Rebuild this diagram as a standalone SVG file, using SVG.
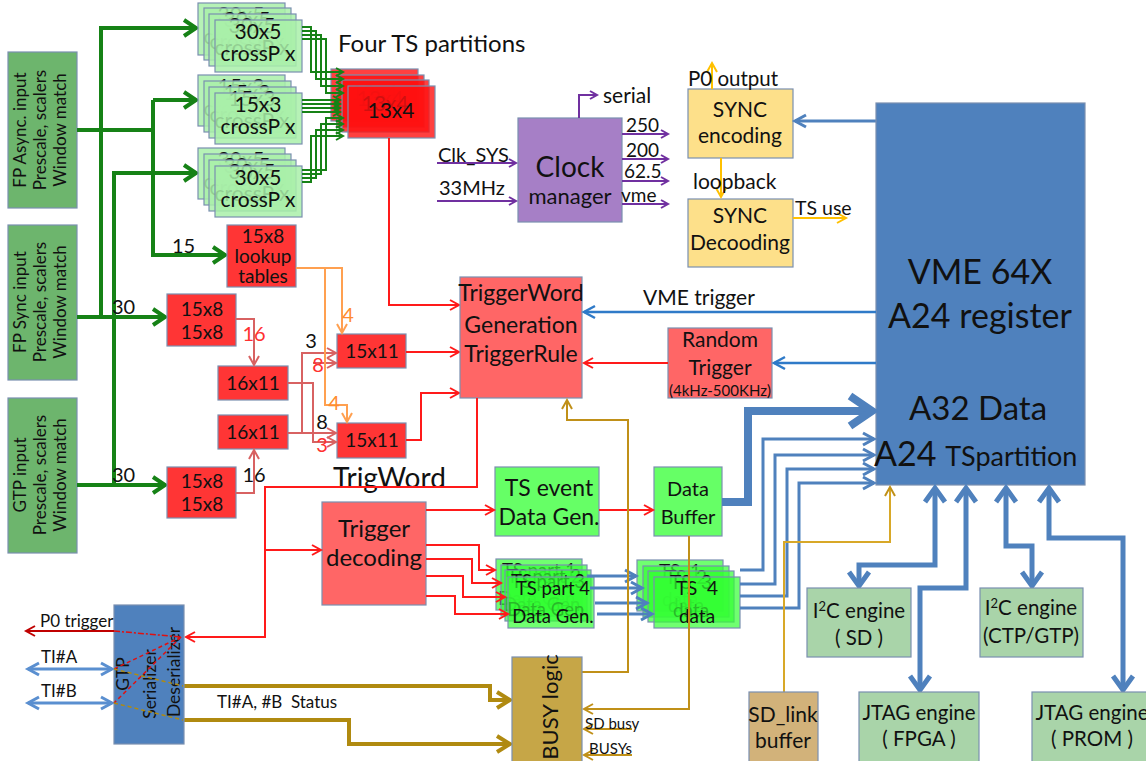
<svg xmlns="http://www.w3.org/2000/svg" width="1146" height="761" viewBox="0 0 1146 761">
<style>
text{font-family:Lato,"Open Sans","Liberation Sans",sans-serif;fill:#111}
.c{text-anchor:middle}
.bx{stroke:#7a8fb0;stroke-width:1.2}
.lg{fill:#6db56d}
.cp{fill:#a9f0a9;fill-opacity:0.85}
.rd{fill:#ff3535}
.pk{fill:#ff6666}
.gr{fill:#66ff66}
.gt{fill:#33ff33;fill-opacity:0.7}
.rt{fill:#ff1010;fill-opacity:0.8}
.eng{fill:#a9d4a9}
.sy{fill:#fde08a}
.bl{fill:#4f81bd}
.g4{fill:none;stroke:#168216;stroke-width:4}
.g2{fill:none;stroke:#168216;stroke-width:2}
.r2{fill:none;stroke:#ff1a1a;stroke-width:2}
.s2{fill:none;stroke:#d86262;stroke-width:2}
.o2{fill:none;stroke:#ffa050;stroke-width:2}
.p2{fill:none;stroke:#7030a0;stroke-width:2}
.y2{fill:none;stroke:#ffc000;stroke-width:2}
.b2{fill:none;stroke:#2f7ac8;stroke-width:2.5}
.b3{fill:none;stroke:#4f81bd;stroke-width:3}
.b5{fill:none;stroke:#4f81bd;stroke-width:5}
.b8{fill:none;stroke:#4f81bd;stroke-width:8}
.n2{fill:none;stroke:#c09018;stroke-width:2}
.n4{fill:none;stroke:#b08a10;stroke-width:4}
</style>
<defs>
<marker id="mg" markerWidth="20" markerHeight="20" refX="14" refY="10" orient="auto" markerUnits="userSpaceOnUse" overflow="visible"><path d="M2,2 L14,10 L2,18" fill="none" stroke="#168216" stroke-width="4"/></marker>
<marker id="mgs" markerWidth="10" markerHeight="10" refX="8" refY="5" orient="auto" markerUnits="userSpaceOnUse" overflow="visible"><path d="M1,1 L8,5 L1,9" fill="none" stroke="#168216" stroke-width="2"/></marker>
<marker id="mr" markerWidth="12" markerHeight="12" refX="10" refY="6" orient="auto" markerUnits="userSpaceOnUse" overflow="visible"><path d="M1,1 L10,6 L1,11" fill="none" stroke="#ff1a1a" stroke-width="2"/></marker>
<marker id="ms" markerWidth="12" markerHeight="12" refX="10" refY="6" orient="auto" markerUnits="userSpaceOnUse" overflow="visible"><path d="M1,1 L10,6 L1,11" fill="none" stroke="#d86262" stroke-width="2"/></marker>
<marker id="mo" markerWidth="12" markerHeight="12" refX="10" refY="6" orient="auto" markerUnits="userSpaceOnUse" overflow="visible"><path d="M1,1 L10,6 L1,11" fill="none" stroke="#ffa050" stroke-width="2"/></marker>
<marker id="mp" markerWidth="10" markerHeight="10" refX="8" refY="5" orient="auto" markerUnits="userSpaceOnUse" overflow="visible"><path d="M1,1 L8,5 L1,9" fill="none" stroke="#7030a0" stroke-width="2"/></marker>
<marker id="my" markerWidth="12" markerHeight="12" refX="10" refY="6" orient="auto" markerUnits="userSpaceOnUse" overflow="visible"><path d="M1,1 L10,6 L1,11" fill="none" stroke="#ffc000" stroke-width="2"/></marker>
<marker id="mb" markerWidth="14" markerHeight="14" refX="12" refY="7" orient="auto" markerUnits="userSpaceOnUse" overflow="visible"><path d="M1,1 L12,7 L1,13" fill="none" stroke="#2f7ac8" stroke-width="2.5"/></marker>
<marker id="mb3" markerWidth="14" markerHeight="14" refX="12" refY="7" orient="auto-start-reverse" markerUnits="userSpaceOnUse" overflow="visible"><path d="M1,1 L12,7 L1,13" fill="none" stroke="#4f81bd" stroke-width="3"/></marker>
<marker id="mti" markerWidth="14" markerHeight="14" refX="12" refY="7" orient="auto-start-reverse" markerUnits="userSpaceOnUse" overflow="visible"><path d="M1,1 L12,7 L1,13" fill="none" stroke="#5a8fd0" stroke-width="3"/></marker>
<marker id="mb5" markerWidth="24" markerHeight="24" refX="17" refY="12" orient="auto-start-reverse" markerUnits="userSpaceOnUse" overflow="visible"><path d="M3,2 L17,12 L3,22" fill="none" stroke="#4f81bd" stroke-width="5"/></marker>
<marker id="mb8" markerWidth="34" markerHeight="34" refX="26" refY="17" orient="auto" markerUnits="userSpaceOnUse" overflow="visible"><path d="M4,2 L26,17 L4,32" fill="none" stroke="#4f81bd" stroke-width="8"/></marker>
<marker id="mn" markerWidth="12" markerHeight="12" refX="10" refY="6" orient="auto" markerUnits="userSpaceOnUse" overflow="visible"><path d="M1,1 L10,6 L1,11" fill="none" stroke="#c09018" stroke-width="2"/></marker>
<marker id="mn4" markerWidth="20" markerHeight="20" refX="15" refY="10" orient="auto" markerUnits="userSpaceOnUse" overflow="visible"><path d="M2,2 L15,10 L2,18" fill="none" stroke="#b08a10" stroke-width="4"/></marker>
<marker id="mdr" markerWidth="12" markerHeight="12" refX="10" refY="6" orient="auto" markerUnits="userSpaceOnUse" overflow="visible"><path d="M1,1 L10,6 L1,11" fill="none" stroke="#c00000" stroke-width="2"/></marker>
</defs>
<rect width="1146" height="761" fill="#fff"/>

<g id="title"><text x="338" y="52" font-size="24">Four TS partitions</text></g>

<g id="fp-async"><rect class="bx lg" x="8" y="52" width="69" height="156"/>
<text class="c" transform="translate(42,130) rotate(-90)" font-size="17"><tspan x="0" y="-16">FP Async. input</tspan><tspan x="0" y="4">Prescale, scalers</tspan><tspan x="0" y="24">Window match</tspan></text></g>
<g id="fp-sync"><rect class="bx lg" x="8" y="225" width="69" height="155"/>
<text class="c" transform="translate(42,302) rotate(-90)" font-size="17"><tspan x="0" y="-16">FP Sync input</tspan><tspan x="0" y="4">Prescale, scalers</tspan><tspan x="0" y="24">Window match</tspan></text></g>
<g id="gtp-input"><rect class="bx lg" x="8" y="398" width="69" height="155"/>
<text class="c" transform="translate(42,475) rotate(-90)" font-size="17"><tspan x="0" y="-16">GTP input</tspan><tspan x="0" y="4">Prescale, scalers</tspan><tspan x="0" y="24">Window match</tspan></text></g>

<g id="connectors">
<path class="g4" d="M77,130 H153"/>
<path class="g4" d="M153,100 V255 H225" marker-end="url(#mg)"/>
<path class="g4" d="M153,100 H196" marker-end="url(#mg)"/>
<path class="g4" d="M77,317 H165" marker-end="url(#mg)"/>
<path class="g4" d="M101,317 V28 H196" marker-end="url(#mg)"/>
<path class="g4" d="M77,485 H165" marker-end="url(#mg)"/>
<path class="g4" d="M114,485 V173 H196" marker-end="url(#mg)"/>
</g>

<g id="crossp-top">
<rect class="bx cp" x="198" y="3" width="87" height="52"/><text class="c" x="241" y="22" font-size="21">30x5</text><text class="c" x="241" y="44" font-size="21">crossP x</text>
<rect class="bx cp" x="204" y="8" width="87" height="52"/><text class="c" x="247" y="27" font-size="21">30x5</text><text class="c" x="247" y="49" font-size="21">crossP x</text>
<rect class="bx cp" x="209" y="14" width="87" height="52"/><text class="c" x="252" y="33" font-size="21">30x5</text><text class="c" x="252" y="55" font-size="21">crossP x</text>
<rect class="bx cp" x="215" y="20" width="87" height="52"/><text class="c" x="258" y="39" font-size="21">30x5</text><text class="c" x="258" y="61" font-size="21">crossP x</text>
</g>
<g id="crossp-mid">
<rect class="bx cp" x="198" y="75" width="87" height="51"/><text class="c" x="241" y="94" font-size="21">15x3</text><text class="c" x="241" y="116" font-size="21">crossP x</text>
<rect class="bx cp" x="204" y="81" width="87" height="51"/><text class="c" x="247" y="100" font-size="21">15x3</text><text class="c" x="247" y="122" font-size="21">crossP x</text>
<rect class="bx cp" x="209" y="87" width="87" height="51"/><text class="c" x="252" y="106" font-size="21">15x3</text><text class="c" x="252" y="128" font-size="21">crossP x</text>
<rect class="bx cp" x="215" y="93" width="87" height="51"/><text class="c" x="258" y="112" font-size="21">15x3</text><text class="c" x="258" y="134" font-size="21">crossP x</text>
</g>
<g id="crossp-bot">
<rect class="bx cp" x="198" y="148" width="87" height="51"/><text class="c" x="241" y="167" font-size="21">30x5</text><text class="c" x="241" y="189" font-size="21">crossP x</text>
<rect class="bx cp" x="204" y="154" width="87" height="51"/><text class="c" x="247" y="173" font-size="21">30x5</text><text class="c" x="247" y="195" font-size="21">crossP x</text>
<rect class="bx cp" x="209" y="160" width="87" height="51"/><text class="c" x="252" y="179" font-size="21">30x5</text><text class="c" x="252" y="201" font-size="21">crossP x</text>
<rect class="bx cp" x="215" y="166" width="87" height="51"/><text class="c" x="258" y="185" font-size="21">30x5</text><text class="c" x="258" y="207" font-size="21">crossP x</text>
</g>

<g id="ts13x4">
<rect class="bx rt" x="331" y="69" width="87" height="52"/><text class="c" x="374" y="100" font-size="21">13x4</text>
<rect class="bx rt" x="337" y="75" width="87" height="52"/><text class="c" x="380" y="106" font-size="21">13x4</text>
<rect class="bx rt" x="342" y="80" width="87" height="52"/><text class="c" x="385" y="111" font-size="21">13x4</text>
<rect class="bx rt" x="348" y="86" width="87" height="52"/><text class="c" x="391" y="118" font-size="21">13x4</text>
</g>

<g id="connectors-green-thin">
<path class="g2" d="M302,27 H311 V72 H343" marker-end="url(#mgs)"/>
<path class="g2" d="M302,31 H316 V79 H343" marker-end="url(#mgs)"/>
<path class="g2" d="M302,35 H321 V86 H343" marker-end="url(#mgs)"/>
<path class="g2" d="M302,39 H326 V93 H343" marker-end="url(#mgs)"/>
<path class="g2" d="M302,100 H340" marker-end="url(#mgs)"/>
<path class="g2" d="M302,104 H340" marker-end="url(#mgs)"/>
<path class="g2" d="M302,108 H340" marker-end="url(#mgs)"/>
<path class="g2" d="M302,112 H340" marker-end="url(#mgs)"/>
<path class="g2" d="M302,170 H326 V118 H343" marker-end="url(#mgs)"/>
<path class="g2" d="M302,174 H321 V124 H343" marker-end="url(#mgs)"/>
<path class="g2" d="M302,178 H316 V130 H343" marker-end="url(#mgs)"/>
<path class="g2" d="M302,182 H311 V136 H343" marker-end="url(#mgs)"/>
</g>

<g id="labels-left">
<text x="172" y="253" font-size="20">15</text>
<text x="112" y="314" font-size="20">30</text>
<text x="112" y="482" font-size="20">30</text>
</g>

<g id="lookup"><rect class="bx rd" x="227" y="225" width="69" height="62"/>
<text class="c" x="263" y="243" font-size="19">15x8</text><text class="c" x="263" y="263" font-size="19">lookup</text><text class="c" x="263" y="283" font-size="19">tables</text></g>
<g id="b15x8a"><rect class="bx rd" x="167" y="294" width="69" height="52"/>
<text class="c" x="202" y="316" font-size="19">15x8</text><text class="c" x="202" y="339" font-size="19">15x8</text></g>
<g id="b15x8b"><rect class="bx rd" x="167" y="467" width="69" height="51"/>
<text class="c" x="202" y="488" font-size="19">15x8</text><text class="c" x="202" y="511" font-size="19">15x8</text></g>
<g id="b16x11a"><rect class="bx rd" x="218" y="366" width="70" height="34"/><text class="c" x="253" y="390" font-size="19">16x11</text></g>
<g id="b16x11b"><rect class="bx rd" x="218" y="415" width="70" height="34"/><text class="c" x="253" y="439" font-size="19">16x11</text></g>
<g id="b15x11a"><rect class="bx rd" x="337" y="334" width="69" height="34"/><text class="c" x="372" y="358" font-size="19">15x11</text></g>
<g id="b15x11b"><rect class="bx rd" x="337" y="423" width="69" height="35"/><text class="c" x="372" y="447" font-size="19">15x11</text></g>

<g id="connectors-mid">
<path class="s2" d="M236,319 H254 V365" marker-end="url(#ms)"/>
<path class="s2" d="M236,493 H254 V450" marker-end="url(#ms)"/>
<path class="s2" d="M288,383 H313 V442 H336" marker-end="url(#ms)"/>
<path class="s2" d="M313,363 H336" marker-end="url(#ms)"/>
<path class="s2" d="M288,433 H336" marker-end="url(#ms)"/>
<path class="s2" d="M302,433 V353 H336" marker-end="url(#ms)"/>
<path class="o2" d="M296,268 H342 V333" marker-end="url(#mo)"/>
<path class="o2" d="M325,268 V405 H347 V422" marker-end="url(#mo)"/>
<path class="r2" d="M389,138 V305 H459" marker-end="url(#mr)"/>
<path class="r2" d="M406,352 H459" marker-end="url(#mr)"/>
<path class="r2" d="M406,440 H421 V393 H459" marker-end="url(#mr)"/>
</g>
<g id="labels-mid">
<text class="c" x="254" y="341" font-size="20" style="fill:#ff3030">16</text>
<text class="c" x="254" y="482" font-size="20">16</text>
<text class="c" x="311" y="348" font-size="20">3</text>
<text class="c" x="318" y="372" font-size="20" style="fill:#ff3030">8</text>
<text class="c" x="348" y="322" font-size="20" style="fill:#ff8c30">4</text>
<text class="c" x="334" y="410" font-size="20" style="fill:#ff8c30">4</text>
<text class="c" x="322" y="429" font-size="20">8</text>
<text class="c" x="322" y="452" font-size="20" style="fill:#ff3030">3</text>
</g>

<g id="clock"><rect class="bx" fill="#a67fc6" x="518" y="118" width="104" height="104"/>
<text class="c" x="570" y="177" font-size="28">Clock</text><text class="c" x="570" y="204" font-size="22">manager</text></g>
<g id="clock-connectors">
<path class="p2" d="M437,163 H516" marker-end="url(#mp)"/>
<path class="p2" d="M437,201 H516" marker-end="url(#mp)"/>
<path class="p2" d="M579,118 V95 H597" marker-end="url(#mp)"/>
<path class="p2" d="M622,134 H668" marker-end="url(#mp)"/>
<path class="p2" d="M622,159 H668" marker-end="url(#mp)"/>
<path class="p2" d="M622,181 H668" marker-end="url(#mp)"/>
<path class="p2" d="M622,204 H668" marker-end="url(#mp)"/>
</g>
<g id="clock-labels">
<text x="438" y="162" font-size="20">Clk_SYS</text>
<text x="439" y="195" font-size="20">33MHz</text>
<text x="603" y="103" font-size="21">serial</text>
<text x="626" y="132" font-size="19">250</text>
<text x="626" y="157" font-size="19">200</text>
<text x="624" y="178" font-size="19">62.5</text>
<text x="621" y="202" font-size="19">vme</text>
</g>

<g id="sync-enc"><rect class="bx sy" x="688" y="89" width="105" height="69"/>
<text class="c" x="740" y="117" font-size="21">SYNC</text><text class="c" x="740" y="143" font-size="21">encoding</text></g>
<g id="sync-dec"><rect class="bx sy" x="688" y="199" width="105" height="68"/>
<text class="c" x="740" y="223" font-size="21">SYNC</text><text class="c" x="740" y="250" font-size="21">Decooding</text></g>
<g id="sync-connectors">
<path class="y2" d="M712,89 V63" marker-end="url(#my)"/>
<path class="y2" d="M721,158 V197" marker-end="url(#my)"/>
<path class="y2" d="M793,218 H846" marker-end="url(#my)"/>
<path class="b3" d="M876,121 H795" marker-end="url(#mb3)"/>
</g>
<g id="sync-labels">
<text x="688" y="86" font-size="20.5">P0 output</text>
<text x="693" y="189" font-size="21">loopback</text>
<text x="795" y="215" font-size="19.5">TS use</text>
</g>

<g id="vme"><rect class="bx bl" x="876" y="103" width="209" height="382"/>
<text class="c" x="980" y="284" font-size="34">VME 64X</text>
<text class="c" x="980" y="328" font-size="34">A24 register</text>
<text class="c" x="978" y="420" font-size="33">A32 Data</text>
<text x="874" y="466" font-size="34">A24 <tspan font-size="27">TSpartition</tspan></text></g>

<g id="triggerword"><rect class="bx pk" x="460" y="277" width="122" height="121"/>
<text class="c" x="521" y="301" font-size="23">TriggerWord</text><text class="c" x="521" y="333" font-size="23">Generation</text><text class="c" x="521" y="362" font-size="23">TriggerRule</text></g>
<g id="random"><rect class="bx pk" x="668" y="328" width="104" height="70"/>
<text class="c" x="720" y="347" font-size="21">Random</text><text class="c" x="720" y="375" font-size="21">Trigger</text><text class="c" x="720" y="396" font-size="15">(4kHz-500KHz)</text></g>
<g id="trig-connectors">
<path class="b2" d="M876,312 H584" marker-end="url(#mb)"/>
<path class="b2" d="M876,363 H774" marker-end="url(#mb)"/>
<path class="r2" d="M668,363 H584" marker-end="url(#mr)"/>
</g>
<text x="643" y="305" font-size="21">VME trigger</text>

<g id="trigdec"><rect class="bx pk" x="322" y="502" width="104" height="103"/>
<text class="c" x="374" y="537" font-size="24">Trigger</text><text class="c" x="374" y="566" font-size="24">decoding</text></g>
<g id="tsevent"><rect class="bx gr" x="495" y="467" width="104" height="69"/>
<text class="c" x="549" y="496" font-size="23">TS event</text><text class="c" x="549" y="525" font-size="23">Data Gen.</text></g>
<g id="databuffer"><rect class="bx gr" x="654" y="467" width="68" height="69"/>
<text class="c" x="688" y="496" font-size="20">Data</text><text class="c" x="688" y="524" font-size="20">Buffer</text></g>
<text x="333" y="488" font-size="28">TrigWord</text>

<g id="tspart">
<rect class="bx gt" x="496" y="559" width="86" height="51"/><text class="c" x="539" y="577" font-size="18.5">TS part 1</text><text class="c" x="539" y="605" font-size="18.5">Data Gen.</text>
<rect class="bx gt" x="501" y="565" width="86" height="51"/><text class="c" x="544" y="583" font-size="18.5">TS part 2</text><text class="c" x="544" y="611" font-size="18.5">Data Gen.</text>
<rect class="bx gt" x="505" y="570" width="86" height="51"/><text class="c" x="548" y="588" font-size="18.5">TS part 3</text><text class="c" x="548" y="616" font-size="18.5">Data Gen.</text>
<rect class="bx gt" x="508" y="577" width="86" height="51"/><text class="c" x="553" y="595" font-size="18.5">TS part 4</text><text class="c" x="553" y="623" font-size="18.5">Data Gen.</text>
</g>
<g id="tsdata">
<rect class="bx gt" x="637" y="560" width="86" height="51"/><text class="c" x="680" y="578" font-size="19" xml:space="preserve">TS  1</text><text class="c" x="680" y="606" font-size="19">data</text>
<rect class="bx gt" x="643" y="566" width="86" height="51"/><text class="c" x="686" y="584" font-size="19" xml:space="preserve">TS  2</text><text class="c" x="686" y="612" font-size="19">data</text>
<rect class="bx gt" x="648" y="571" width="86" height="51"/><text class="c" x="691" y="589" font-size="19" xml:space="preserve">TS  3</text><text class="c" x="691" y="617" font-size="19">data</text>
<rect class="bx gt" x="654" y="577" width="86" height="51"/><text class="c" x="697" y="595" font-size="19" xml:space="preserve">TS  4</text><text class="c" x="697" y="623" font-size="19">data</text>
</g>

<g id="connectors-low">
<path class="r2" d="M477,398 V487 H265 V637 H186" marker-end="url(#mr)"/>
<path class="r2" d="M265,550 H321" marker-end="url(#mr)"/>
<path class="r2" d="M426,510 H494" marker-end="url(#mr)"/>
<path class="r2" d="M599,510 H653" marker-end="url(#mr)"/>
<path class="r2" d="M426,545 H479 V570 H495" marker-end="url(#mr)"/>
<path class="r2" d="M426,559 H472 V583 H501" marker-end="url(#mr)"/>
<path class="r2" d="M426,576 H463 V597 H505" marker-end="url(#mr)"/>
<path class="r2" d="M426,596 H455 V614 H508" marker-end="url(#mr)"/>
<path class="b3" d="M587,576 H636" marker-end="url(#mb3)"/>
<path class="b3" d="M590,588 H642" marker-end="url(#mb3)"/>
<path class="b3" d="M595,603 H647" marker-end="url(#mb3)"/>
<path class="b3" d="M597,614 H652" marker-end="url(#mb3)"/>
<path class="b8" d="M722,502 H748 V411 H872" marker-end="url(#mb8)"/>
<path class="b3" d="M740,570 H763 V439 H874" marker-end="url(#mb3)"/>
<path class="b3" d="M740,584 H775 V455 H874" marker-end="url(#mb3)"/>
<path class="b3" d="M740,596 H787 V469 H874" marker-end="url(#mb3)"/>
<path class="b3" d="M740,608 H799 V483 H874" marker-end="url(#mb3)"/>
<path class="b5" d="M935,488 V565 H859 V586" marker-start="url(#mb5)" marker-end="url(#mb5)"/>
<path class="b5" d="M966,488 V588 H920 V690" marker-start="url(#mb5)" marker-end="url(#mb5)"/>
<path class="b5" d="M1006,488 V546 H1032 V586" marker-start="url(#mb5)" marker-end="url(#mb5)"/>
<path class="b5" d="M1049,488 V538 H1123 V690" marker-start="url(#mb5)" marker-end="url(#mb5)"/>
<path class="n2" d="M582,672 H628 V420 H567 V400" marker-end="url(#mn)"/>
<path class="n2" d="M689,536 V709 H584" marker-end="url(#mn)"/>
<path class="n2" d="M632,729 H584" marker-end="url(#mn)"/>
<path class="n2" d="M632,755 H584" marker-end="url(#mn)"/>
<path class="n2" style="stroke:#d8a828" d="M784,692 V542 H890 V487" marker-end="url(#mn)"/>
<path class="n4" d="M183,686 H490 V700 H510" marker-end="url(#mn4)"/>
<path class="n4" d="M183,720 H349 V744 H510" marker-end="url(#mn4)"/>
</g>

<g id="gtp"><rect class="bx bl" x="114" y="605" width="70" height="139"/>
<text class="c" transform="rotate(-90)" font-size="17.5"><tspan x="-674" y="129">GTP</tspan><tspan x="-684" y="156">Serializer</tspan><tspan x="-672" y="180">Deserializer</tspan></text></g>
<g id="gtp-connectors">
<path fill="none" stroke="#c00000" stroke-width="2" d="M114,631 H26" marker-end="url(#mdr)"/>
<path fill="none" stroke="#5a8fd0" stroke-width="3" d="M28,669 H112" marker-start="url(#mti)" marker-end="url(#mti)"/>
<path fill="none" stroke="#5a8fd0" stroke-width="3" d="M28,703 H112" marker-start="url(#mti)" marker-end="url(#mti)"/>
<path fill="none" stroke="#e01010" stroke-width="1.5" stroke-dasharray="6,2,2,2" d="M114,631 L181,637"/>
<path fill="none" stroke="#e01010" stroke-width="1.5" stroke-dasharray="4,3" d="M181,637 L114,669"/>
<path fill="none" stroke="#e01010" stroke-width="1.5" stroke-dasharray="4,3" d="M181,637 L114,703"/>
<path fill="none" stroke="#b08a10" stroke-width="1.5" stroke-dasharray="4,3" d="M114,669 L183,686"/>
<path fill="none" stroke="#b08a10" stroke-width="1.5" stroke-dasharray="4,3" d="M114,703 L183,720"/>
</g>
<g id="gtp-labels">
<text x="40" y="627" font-size="17">P0 trigger</text>
<text x="41" y="663" font-size="17">TI#A</text>
<text x="41" y="697" font-size="17">TI#B</text>
<text x="217" y="708" font-size="17" xml:space="preserve">TI#A, #B  Status</text>
</g>

<g id="busy"><rect class="bx" fill="#c6a647" x="512" y="657" width="70" height="110"/>
<text class="c" transform="translate(558,707) rotate(-90)" font-size="22">BUSY logic</text></g>
<text x="585" y="729" font-size="15">SD busy</text>
<text x="589" y="754" font-size="15">BUSYs</text>

<g id="i2c-sd"><rect class="bx eng" x="807" y="588" width="104" height="69"/>
<text class="c" x="859" y="618" font-size="20.5">I<tspan font-size="13" dy="-7">2</tspan><tspan dy="7">C engine</tspan></text><text class="c" x="859" y="645" font-size="20.5">( SD )</text></g>
<g id="i2c-ctp"><rect class="bx eng" x="980" y="588" width="103" height="69"/>
<text class="c" x="1031" y="615" font-size="20.5">I<tspan font-size="13" dy="-7">2</tspan><tspan dy="7">C engine</tspan></text><text class="c" x="1031" y="643" font-size="20.5">(CTP/GTP)</text></g>
<g id="jtag-fpga"><rect class="bx eng" x="859" y="692" width="120" height="75"/>
<text class="c" x="919" y="720" font-size="20.5">JTAG engine</text><text class="c" x="919" y="746" font-size="20.5">( FPGA )</text></g>
<g id="jtag-prom"><rect class="bx eng" x="1032" y="692" width="120" height="75"/>
<text class="c" x="1092" y="720" font-size="20.5">JTAG engine</text><text class="c" x="1092" y="746" font-size="20.5">( PROM )</text></g>
<g id="sdlink"><rect class="bx" fill="#d2b27a" x="749" y="692" width="69" height="75"/>
<text class="c" x="783" y="722" font-size="21">SD_link</text><text class="c" x="783" y="748" font-size="21">buffer</text></g>
</svg>
